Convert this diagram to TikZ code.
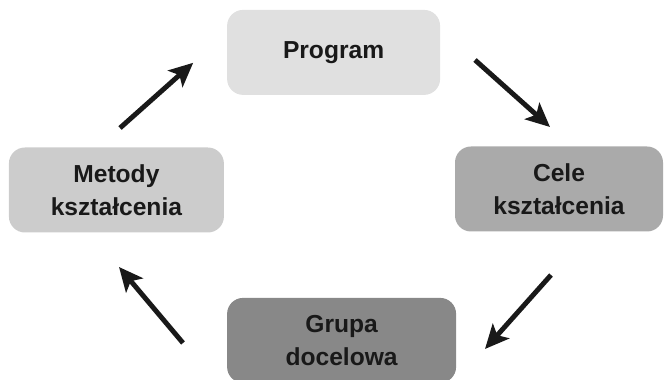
\documentclass[tikz,border=0pt]{standalone}
\usepackage{fontspec}
\setmainfont{Liberation Sans}
\usetikzlibrary{arrows.meta}

\definecolor{boxA}{HTML}{E0E0E0}
\definecolor{boxB}{HTML}{AAAAAA}
\definecolor{boxC}{HTML}{888888}
\definecolor{boxD}{HTML}{CCCCCC}

\begin{document}
\begin{tikzpicture}[
        font=\fontsize{17.5}{23.5}\selectfont\bfseries,
        stage/.style={
          rounded corners = 0.4cm,
          minimum height = 2.125cm,
          align = center,
          text = black!90,
          inner sep = 0,
        },
        flow/.style={
          line width = 3.5pt,
          black!90,
          -{Stealth[length=0.6cm, width=0.55cm, inset=0.14cm]},
        },
      ]
      \clip (0,0) rectangle (16.6,9.5);
      \useasboundingbox (0,0) rectangle (16.6,9.5);

      \node[stage, fill = boxA, minimum width = 5.325cm]
        (prog) at (8.34,8.19) {Program};
      \node[stage, fill = boxB, minimum width = 5.2cm]
        (cele) at (13.975,4.775) {Cele\\kształcenia};
      \node[stage, fill = boxC, minimum width = 5.725cm]
        (grupa) at (8.54,0.99) {Grupa\\docelowa};
      \node[stage, fill = boxD, minimum width = 5.375cm]
        (metody) at (2.91,4.75) {Metody\\kształcenia};

      % free-standing arrows between the stages
      \coordinate (a1) at (3.0,6.3);
      \coordinate (b1) at (4.83,7.93);
      \coordinate (a2) at (11.875,8.0);
      \coordinate (b2) at (13.75,6.325);
      \coordinate (a3) at (13.775,2.625);
      \coordinate (b3) at (12.125,0.775);
      \coordinate (a4) at (4.575,0.925);
      \coordinate (b4) at (2.975,2.825);

      \foreach \i in {1,...,4} {
        \draw[flow] (a\i) -- (b\i);
      }

    \end{tikzpicture}
\end{document}
